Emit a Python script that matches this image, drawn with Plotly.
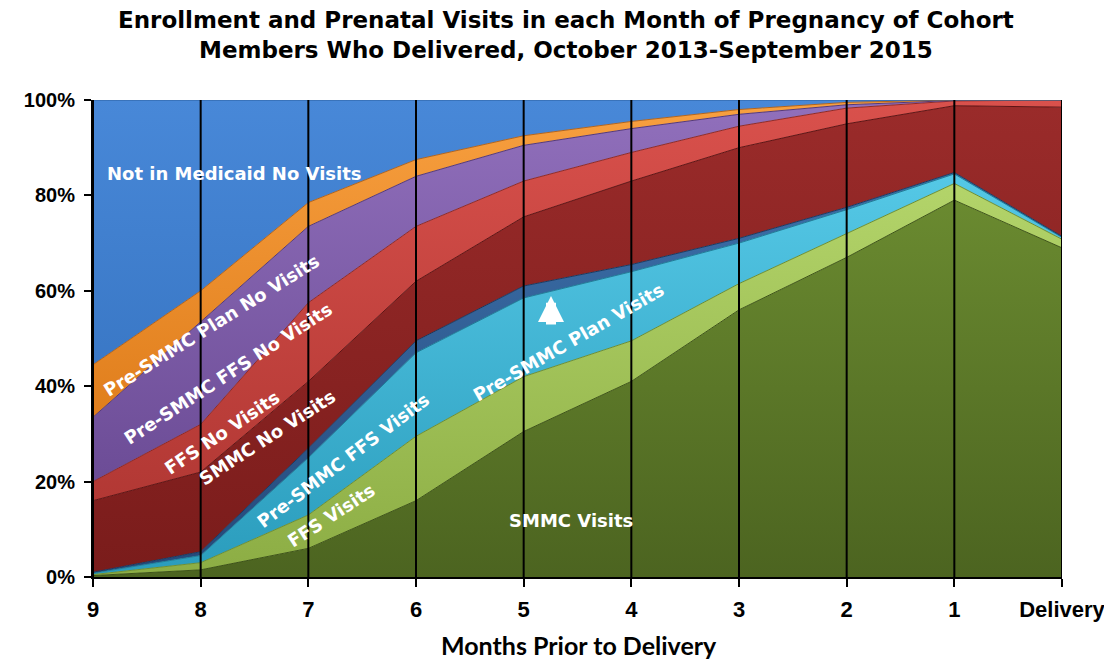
import plotly.graph_objects as go

months = ["9", "8", "7", "6", "5", "4", "3", "2", "1", "Delivery"]
xpos = list(range(len(months)))

series_names = [
    "SMMC Visits", "FFS Visits", "Pre-SMMC FFS Visits", "Pre-SMMC Plan Visits",
    "SMMC No Visits", "FFS No Visits", "Pre-SMMC FFS No Visits",
    "Pre-SMMC Plan No Visits", "Not in Medicaid No Visits",
]

smmc_visits      = [0.3, 1.5, 6.0, 16.0, 30.5, 41.0, 56.0, 67.0, 79.0, 69.0]
ffs_visits       = [0.2, 1.5, 7.0, 13.5, 11.5, 8.5, 5.5, 5.0, 3.5, 1.8]
pre_ffs_visits   = [0.3, 1.5, 12.0, 17.5, 16.5, 14.5, 8.5, 5.0, 2.0, 0.4]
pre_plan_visits  = [0.2, 0.8, 2.0, 2.5, 2.5, 1.5, 1.0, 0.5, 0.3, 0.2]
smmc_no_visits   = [15.0, 16.7, 14.0, 12.5, 14.5, 17.5, 19.0, 17.5, 14.0, 27.1]
ffs_no_visits    = [4.0, 10.0, 16.5, 11.5, 7.5, 6.0, 4.5, 3.3, 1.0, 1.5]
pre_ffs_no       = [13.5, 21.5, 16.0, 10.5, 7.5, 5.0, 2.5, 0.7, 0.1, 0.0]
pre_plan_no      = [11.0, 6.5, 5.0, 3.5, 2.0, 1.5, 1.0, 0.5, 0.1, 0.0]
not_medicaid_no  = [55.5, 40.0, 21.5, 12.5, 7.5, 4.5, 2.0, 0.5, 0.0, 0.0]

values = [smmc_visits, ffs_visits, pre_ffs_visits, pre_plan_visits,
          smmc_no_visits, ffs_no_visits, pre_ffs_no, pre_plan_no, not_medicaid_no]

fill_colors = ["#5D7A28", "#9DBF52", "#33AED0", "#2A578C",
               "#8A2322", "#C4413D", "#7B5AA6", "#F28C25", "#3F80CE"]
line_colors = ["#3E5418", "#6F8F30", "#1E7E99", "#1A3A62",
               "#5E1414", "#8E2A27", "#54397A", "#B5641A", "#2A5E9E"]
grad_top = ["#6A8A30", "#B3D46A", "#55C8E6", "#3C70AA",
            "#9A2B2A", "#D9514C", "#9170BC", "#F8A040", "#4888D8"]
grad_bot = ["#4C6420", "#8CAD44", "#2A9CBC", "#24497A",
            "#7A1C1B", "#B23834", "#6C4C96", "#E07E1C", "#3A78C6"]

fig = go.Figure()
for name, vals, fc, lc, gt, gb in zip(series_names, values, fill_colors, line_colors, grad_top, grad_bot):
    fig.add_trace(go.Scatter(
        x=xpos, y=vals, name=name, mode="lines", stackgroup="one",
        line=dict(color=lc, width=1),
        fillcolor=fc,
        fillgradient=dict(type="vertical", colorscale=[[0, gb], [1, gt]]),
        hoverinfo="skip", showlegend=False,
    ))

# vertical black category lines above the areas
for xv in xpos:
    fig.add_shape(type="line", xref="x", yref="paper", x0=xv, x1=xv, y0=0, y1=1,
                  line=dict(color="black", width=2), layer="above")

# page has an 8px body margin, so the figure is drawn 8px smaller
OFF = 8
PL, PR, PT, PB = 93, 1062, 100, 577

def px2x(px):
    return (px - PL) / ((PR - PL) / 9)

def py2y(py):
    return (PB - py) / ((PB - PT) / 100)

def px2paper(px):
    return (px - PL) / (PR - PL)

def py2paper(py):
    return (PB - py) / (PB - PT)

lab_font = dict(family="DejaVu Sans", size=18, color="white")
labels = [
    ("<b>Not in Medicaid No Visits</b>", 234, 173, 0),
    ("<b>Pre-SMMC Plan No Visits</b>", 211, 325, -32),
    ("<b>Pre-SMMC FFS No Visits</b>", 228, 373, -33),
    ("<b>FFS No Visits</b>", 222, 432, -34),
    ("<b>SMMC No Visits</b>", 267, 437, -33),
    ("<b>Pre-SMMC FFS Visits</b>", 343, 460, -37),
    ("<b>FFS Visits</b>", 331, 515, -33),
    ("<b>SMMC Visits</b>", 571, 520, 0),
    ("<b>Pre-SMMC Plan Visits</b>", 568, 342, -30),
]
for txt, lx, ly, ang in labels:
    fig.add_annotation(x=px2x(lx), y=py2y(ly), xref="x", yref="y", text=txt,
                       showarrow=False, textangle=ang, font=lab_font)

fig.add_annotation(x=px2x(551), y=py2y(296), xref="x", yref="y", ax=0, ay=30,
                   text="", showarrow=True, arrowcolor="white", arrowwidth=10,
                   arrowhead=2, arrowsize=0.52)

title_font = dict(family="DejaVu Sans", size=23, color="black")
fig.add_annotation(x=px2paper(566), xref="paper", y=py2paper(20), yref="paper", yanchor="middle",
                   xanchor="center", showarrow=False, font=title_font,
                   text="<b>Enrollment and Prenatal Visits in each Month of Pregnancy of Cohort</b>")
fig.add_annotation(x=px2paper(566), xref="paper", y=py2paper(50), yref="paper", yanchor="middle",
                   xanchor="center", showarrow=False, font=title_font,
                   text="<b>Members Who Delivered, October 2013-September 2015</b>")
fig.add_annotation(x=px2paper(579), xref="paper", y=py2paper(645), yref="paper", yanchor="middle",
                   xanchor="center", showarrow=False,
                   font=dict(family="Lato", size=25, color="black"),
                   text="<b>Months Prior to Delivery</b>")

fig.update_layout(
    width=1112 - OFF, height=660 - OFF,
    margin=dict(l=PL - OFF, r=1112 - PR, t=PT - OFF, b=660 - PB),
    paper_bgcolor="white", plot_bgcolor="white",
    xaxis=dict(
        range=[0, 9], tickvals=xpos, ticktext=[f"<b>{m}</b>" for m in months],
        showgrid=False, zeroline=False, showline=True, linecolor="black", linewidth=2,
        ticks="outside", ticklen=8, tickwidth=2, tickcolor="black",
        tickfont=dict(family="Liberation Sans", size=22, color="black"),
        ticklabelstandoff=4,
        layer="above traces", automargin=False,
    ),
    yaxis=dict(
        range=[0, 100], tickvals=[0, 20, 40, 60, 80, 100],
        ticktext=["<b>0%</b>", "<b>20%</b>", "<b>40%</b>", "<b>60%</b>", "<b>80%</b>", "<b>100%</b>"],
        showgrid=False, zeroline=False, showline=True, linecolor="black", linewidth=2,
        ticks="outside", ticklen=7, tickwidth=2, tickcolor="black",
        tickfont=dict(family="Liberation Sans", size=20, color="black"),
        ticklabelstandoff=5,
        layer="above traces", automargin=False,
    ),
)

fig.write_html("out.html")
